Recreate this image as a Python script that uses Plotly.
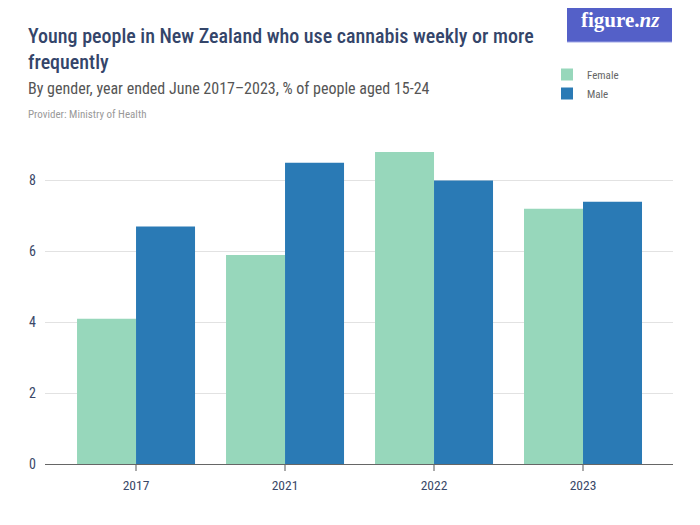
import plotly.graph_objects as go

years = ["2017", "2021", "2022", "2023"]
female = [4.1, 5.9, 8.8, 7.2]
male = [6.7, 8.5, 8.0, 7.4]

# page body has an 8px margin; work in screen pixels and convert
OFF = 8
W, H = 692, 517
PLOT_LEFT, PLOT_RIGHT, PLOT_TOP, PLOT_BOTTOM = 45, 673, 145, 464
L = PLOT_LEFT - OFF
R = W - (PLOT_RIGHT - OFF)
T = PLOT_TOP - OFF
B = H - (PLOT_BOTTOM - OFF)
PW, PH = W - L - R, H - T - B

def px(x):
    return (x - OFF - L) / PW

def py(y):
    return (H - B - (y - OFF)) / PH

FONT = "Liberation Sans Narrow, Roboto Condensed, Roboto, sans-serif"
TXT = "#3a4868"

fig = go.Figure()
fig.add_bar(name="Female", x=years, y=female, marker_color="#97d7bb", marker_line_width=0)
fig.add_bar(name="Male", x=years, y=male, marker_color="#2a7ab5", marker_line_width=0)

fig.update_layout(
    width=W, height=H,
    margin=dict(l=L, r=R, t=T, b=B),
    paper_bgcolor="white", plot_bgcolor="white",
    barmode="group", bargap=0.208, bargroupgap=0,
    font=dict(family=FONT, color=TXT, size=13),
    showlegend=True,
    legend=dict(x=px(547), y=py(60), xanchor="left", yanchor="top",
                font=dict(size=11, color="#666"), itemwidth=30,
                tracegroupgap=2, bgcolor="rgba(0,0,0,0)"),
    xaxis=dict(range=[-0.611, 3.604], showgrid=False, showline=True, linecolor="#666",
               linewidth=1, ticks="outside", tickcolor="#aaa", ticklen=6, tickwidth=2,
               ticklabelstandoff=3, tickfont=dict(size=13.5, color=TXT)),
    yaxis=dict(range=[0, 9], dtick=2, showgrid=True, gridcolor="#e2e2e2", gridwidth=1,
               zeroline=False, showline=False, ticks="", ticklabelstandoff=8,
               tickfont=dict(size=14, color=TXT)),
    shapes=[
        dict(type="rect", xref="paper", yref="paper", x0=px(567), x1=px(672),
             y0=py(42), y1=py(OFF - 10), fillcolor="#5460c8", line_width=0, layer="above"),
        dict(type="line", xref="paper", yref="paper", x0=px(567), x1=px(672),
             y0=py(42), y1=py(42), line=dict(color="#9ea5e6", width=1)),
    ],
    annotations=[
        dict(text="<b>figure.<i>nz</i></b>", xref="paper", yref="paper", x=px(620), y=py(20),
             xanchor="center", yanchor="middle", showarrow=False,
             font=dict(family="Liberation Serif, DejaVu Serif, serif", size=21, color="white")),
        dict(text="Young people in New Zealand who use cannabis weekly or more<br>frequently",
             xref="paper", yref="paper", x=px(26), y=py(22), xanchor="left", yanchor="top",
             align="left", showarrow=False,
             font=dict(size=20, color="#34456a", weight=500)),
        dict(text="By gender, year ended June 2017–2023, % of people aged 15-24",
             xref="paper", yref="paper", x=px(26), y=py(77), xanchor="left", yanchor="top",
             align="left", showarrow=False, font=dict(size=16, color="#555")),
        dict(text="Provider: Ministry of Health",
             xref="paper", yref="paper", x=px(26), y=py(106), xanchor="left", yanchor="top",
             align="left", showarrow=False, font=dict(size=11, color="#999")),
    ],
)

fig.write_html("out.html")
